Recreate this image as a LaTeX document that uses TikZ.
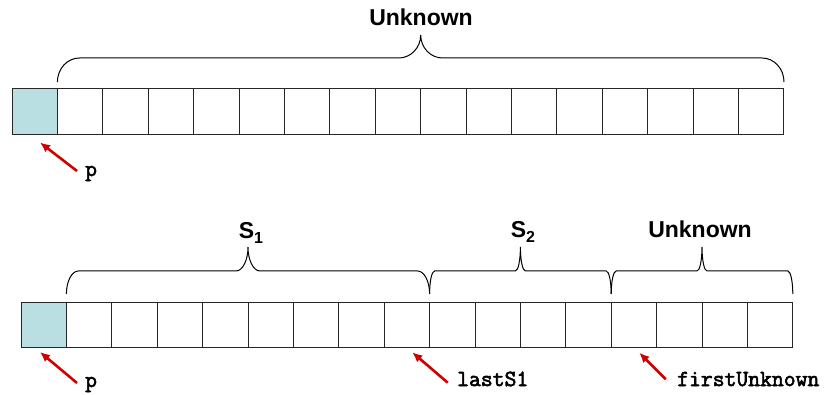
\documentclass[tikz,border=0pt]{standalone}
\usepackage{fontspec}
\setmainfont{Liberation Sans}
\newfontfamily\codefont[FakeBold=2.6]{Latin Modern Mono}
\usetikzlibrary{arrows.meta}

\definecolor{pivotfill}{RGB}{185,223,226}
\definecolor{ptrred}{RGB}{208,0,0}

\tikzset{
  cell/.style={draw=black!85, line width=1pt, minimum width=45.4pt, minimum height=45.5pt,
    inner sep=0pt, outer sep=0pt},
  pivotcell/.style={cell, fill=pivotfill},
  ptr/.style={draw=ptrred, line width=2.6pt, -{Latex[length=10pt,width=9pt]}},
  grouplabel/.style={font=\bfseries\fontsize{23}{23}\selectfont, inner sep=0pt, anchor=base},
  varlabel/.style={font=\codefont\fontsize{23}{23}\selectfont, inner sep=0pt, anchor=base west},
  bracepath/.style={draw=black, line width=1pt},
}

% curly brace opening downwards: #1,#2 end x; #3 tip y; #4 bar y; #5 cusp y; #6 corner width
\newcommand\curlyover[6]{%
  \draw[bracepath] (#1,#3)
    .. controls (#1,{#3-0.552*(#3-#4)}) and ({#1+0.448*#6},#4) .. ({#1+#6},#4)
    -- ({(#1+#2)/2-#6},#4)
    .. controls ({(#1+#2)/2-0.448*#6},#4) and ({(#1+#2)/2},{#5+0.552*(#4-#5)}) .. ({(#1+#2)/2},#5)
    .. controls ({(#1+#2)/2},{#5+0.552*(#4-#5)}) and ({(#1+#2)/2+0.448*#6},#4) .. ({(#1+#2)/2+#6},#4)
    -- ({#2-#6},#4)
    .. controls ({#2-0.448*#6},#4) and (#2,{#3-0.552*(#3-#4)}) .. (#2,#3);
}

\begin{document}
\begin{tikzpicture}[x=1pt,y=-1pt]
\useasboundingbox (0,0) rectangle (825,395);

% ---- first array: pivot plus unknown region ----
\node[pivotcell] (t0) at (34.7,111.5) {};
\foreach \i in {1,...,16}
  \node[cell] (t\i) at ({12+45.4*\i+22.7},111.5) {};

\curlyover{57.4}{784}{82}{58}{35}{22}
\node[grouplabel] (unkA) at (421,26) {Unknown};

\node[varlabel] (pA) at (85,176) {p};
\coordinate (pAtail) at (77,171);
\coordinate (pAtip) at (40,142.5);
\draw[ptr] (pAtail) -- (pAtip);

% ---- second array: pivot, S1, S2, unknown ----
\node[pivotcell] (b0) at (43.7,325) {};
\foreach \i in {1,...,16}
  \node[cell] (b\i) at ({21+45.4*\i+22.7},325) {};

\curlyover{66.4}{429.6}{294}{271}{247}{12}
\curlyover{429.6}{611.2}{294}{271}{247}{5}
\curlyover{611.2}{792.8}{294}{271}{247}{5}

\node[grouplabel] (sone) at (251,239) {S\raisebox{-5pt}{\fontsize{16}{16}\selectfont 1}};
\node[grouplabel] (stwo) at (523,238) {S\raisebox{-5pt}{\fontsize{16}{16}\selectfont 2}};
\node[grouplabel] (unkB) at (700,238) {Unknown};

\node[varlabel] (pB) at (85,387) {p};
\coordinate (pBtail) at (77,383);
\coordinate (pBtip) at (40,352);
\draw[ptr] (pBtail) -- (pBtip);

\node[varlabel] (last) at (457,386) {lastS1};
\coordinate (lasttail) at (447.7,382.7);
\coordinate (lasttip) at (412.3,352.3);
\draw[ptr] (lasttail) -- (lasttip);

\node[varlabel] (first) at (677,386) {firstUnknown};
\coordinate (firsttail) at (665.7,379.3);
\coordinate (firsttip) at (639.3,352.7);
\draw[ptr] (firsttail) -- (firsttip);
\end{tikzpicture}
\end{document}
